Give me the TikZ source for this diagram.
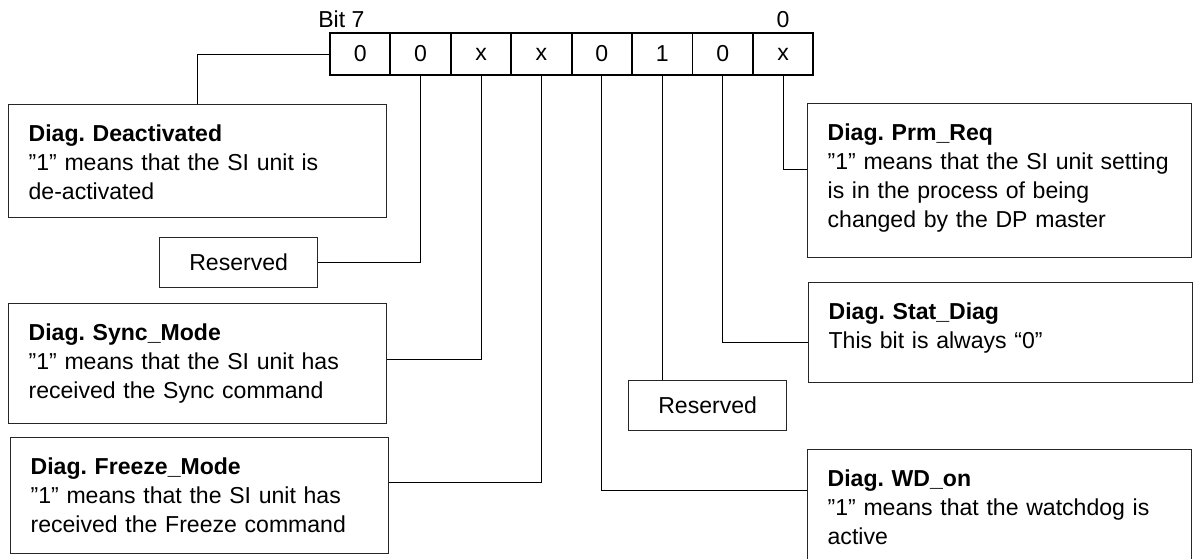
\documentclass[tikz,border=0pt]{standalone}
\usepackage{fontspec}
\setmainfont{Liberation Sans}
\usetikzlibrary{positioning, calc}
\tikzstyle{bitcell} = [rectangle, draw=black, line width=1.4pt, minimum width=1.51cm, minimum height=1.05cm, outer sep=0pt, inner sep=0pt]
\tikzstyle{infobox} = [rectangle, draw=black!85, line width=0.9pt, anchor=north west, text width=8.45cm, inner xsep=0.5cm, inner ysep=0pt, text height=0.925cm, align=left]
\tikzstyle{resbox} = [rectangle, draw=black!85, line width=0.9pt, anchor=north west, minimum width=3.95cm, minimum height=1.25cm]
\tikzstyle{link} = [line width=0.7pt]

\begin{document}
\frenchspacing
\begin{tikzpicture}[x=0.025cm, y=-0.025cm, node distance=0pt, font=\fontsize{16.4}{20.6}\selectfont]
    \useasboundingbox (0,0) rectangle (1200,558);
    % status byte, bit 7 on the left
    \node[bitcell, anchor=north west] (c7) at (330,33) {0};
    \node[bitcell, right=of c7] (c6) {0};
    \node[bitcell, right=of c6] (c5) {x};
    \node[bitcell, right=of c5] (c4) {x};
    \node[bitcell, right=of c4] (c3) {0};
    \node[bitcell, right=of c3] (c2) {1};
    \node[bitcell, right=of c2] (c1) {0};
    \node[bitcell, right=of c1] (c0) {x};
    \node[anchor=base west, inner sep=0pt] (msb) at ([xshift=-0.3cm, yshift=0.13cm]c7.north west) {Bit 7};
    \node[anchor=base, inner sep=0pt] (lsb) at ([yshift=0.13cm]c0.north) {0};

    % left column
    \node[infobox, text depth=1.9cm] (deact) at (8,104) {\textbf{Diag. Deactivated}\\”1” means that the SI unit is\\de-activated};
    \node[resbox] (res6) at (159,237) {Reserved};
    \node[infobox, text depth=2.075cm] (sync) at (8,303) {\textbf{Diag. Sync\_Mode}\\”1” means that the SI unit has\\received the Sync command};
    \node[infobox, text depth=1.975cm] (freeze) at (10,437) {\textbf{Diag. Freeze\_Mode}\\”1” means that the SI unit has\\received the Freeze command};

    % right column
    \node[infobox, text width=8.6cm, text depth=2.925cm] (prm) at (807,103) {\textbf{Diag. Prm\_Req}\\”1” means that the SI unit setting\\is in the process of being\\changed by the DP master};
    \node[infobox, text width=8.6cm, text depth=1.575cm] (stat) at (808,282) {\textbf{Diag. Stat\_Diag}\\This bit is always “0”};
    \node[resbox] (res2) at (628,380) {Reserved};
    \node[infobox, text width=8.6cm, text depth=2.6cm] (wd) at (807,449) {\textbf{Diag. WD\_on}\\”1” means that the watchdog is\\active};

    \draw[link] (c7.west) -| (deact.north);
    \draw[link] (c6.south) |- (res6.east);
    \draw[link] (c5.south) |- ([yshift=0.1cm]sync.east);
    \draw[link] (c4.south) |- ([yshift=0.325cm]freeze.east);
    \draw[link] (c3.south) |- ([yshift=-1.025cm]wd.north west);
    \draw[link] (c2.south) -- (c2.south |- res2.north);
    \draw[link] (c1.south) |- ([yshift=-0.25cm]stat.west);
    \draw[link] (c0.south) |- ([yshift=0.275cm]prm.west);
\end{tikzpicture}
\end{document}
